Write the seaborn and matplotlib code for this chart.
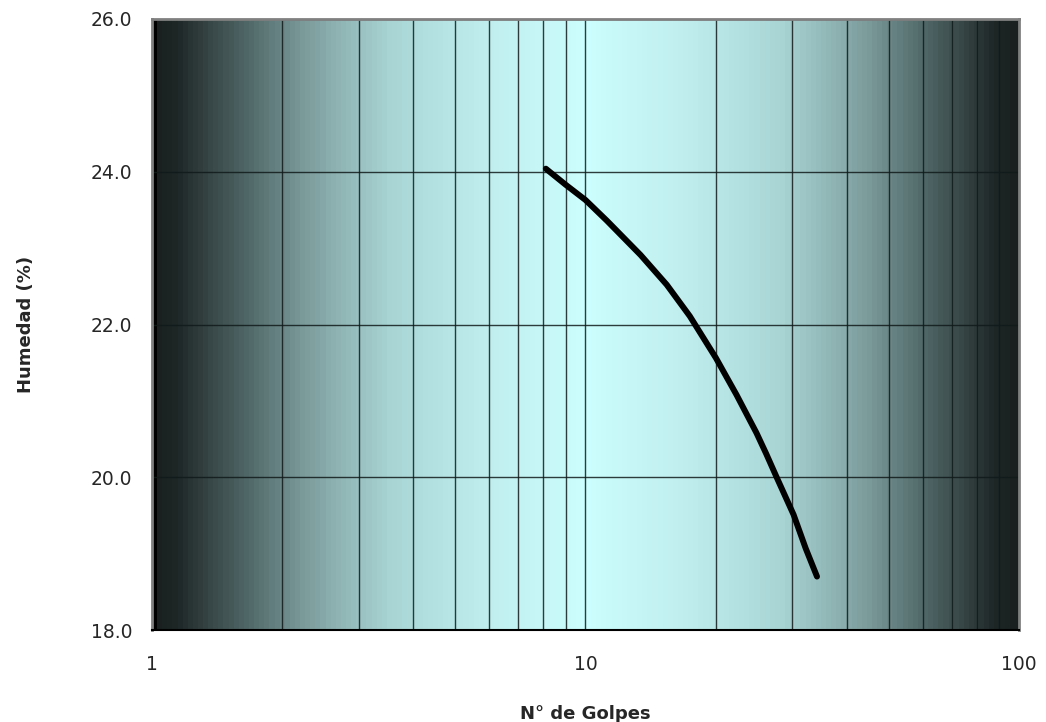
import numpy as np
import pandas as pd
import matplotlib
matplotlib.use("Agg")
import matplotlib.pyplot as plt
import seaborn as sns
from matplotlib.colors import LinearSegmentedColormap
from matplotlib.ticker import LogLocator, FixedLocator, NullFormatter

# curve
golpes = [8.1, 9.0, 10.0, 11.2, 13.4, 15.4, 17.4, 20.0, 22.3, 24.8, 26.1, 27.6, 30.2, 32.2, 34.2]
humedad = [24.04, 23.83, 23.63, 23.36, 22.91, 22.52, 22.11, 21.56, 21.08, 20.58, 20.31, 20.0,
           19.51, 19.07, 18.70]

y_ticks = [18.0, 20.0, 22.0, 24.0, 26.0]
x_ticks = [1, 10, 100]
x_labels = ["1", "10", "100"]

sns.set_style("white")
plt.rcParams["font.family"] = ["DejaVu Sans"]

df = pd.DataFrame({"N": golpes, "W": humedad})

fig = plt.figure(figsize=(10.46, 7.22), dpi=100)
ax = fig.add_axes([0.1453, 0.1274, 0.8289, 0.8463])

# banded background: dark edges, light cyan centre
stops = [(0.0, "#1a1f1f"), (0.05, "#1e2626"), (0.14, "#3b4b4b"),
         (0.24, "#587171"), (0.34, "#7a9999"), (0.43, "#90b4b4"), (0.545, "#a8d4d4"),
         (0.69, "#b8e6e6"), (0.8, "#c2f0f0"), (0.92, "#c8f8f8"), (1.0, "#ccffff")]
half = LinearSegmentedColormap.from_list("half", stops)
nb = 170
pos = np.linspace(0, 1, nb)
tri = 1 - np.abs(2 * pos - 1)
cols = half(tri)
cols[0] = (0, 0, 0, 1)
ax.imshow(cols[np.newaxis, :, :], extent=[0, 1, 0, 1], transform=ax.transAxes,
          aspect="auto", interpolation="nearest", zorder=0)

sns.lineplot(data=df, x="N", y="W", ax=ax, color="black", lw=4.3,
             solid_capstyle="round", solid_joinstyle="round", zorder=5, sort=True)

ax.set_xscale("log")
ax.set_xlim(1, 100)
ax.set_ylim(18, 26)
ax.xaxis.set_major_locator(FixedLocator(x_ticks))
ax.set_xticklabels(x_labels)
ax.xaxis.set_minor_locator(LogLocator(base=10, subs=np.arange(2, 10)))
ax.xaxis.set_minor_formatter(NullFormatter())
ax.set_yticks(y_ticks)
ax.set_yticklabels([f"{v:.1f}" for v in y_ticks])

ax.grid(True, which="both", axis="x", color="#111a1a", lw=1.0, alpha=0.85)
ax.grid(True, which="major", axis="y", color="#111a1a", lw=1.0, alpha=0.85)
for ln in ax.get_xgridlines() + ax.get_ygridlines() + ax.xaxis.get_minorticklines():
    ln.set_zorder(2)

ax.tick_params(axis="both", which="major", direction="out", length=6, width=1,
               color="black", labelsize=13.5, pad=8)
ax.tick_params(axis="x", which="minor", length=0)
ax.tick_params(axis="x", pad=12)

for s in ["top", "right", "left"]:
    ax.spines[s].set_color("#808080")
    ax.spines[s].set_linewidth(2)
ax.spines["bottom"].set_color("black")
ax.spines["bottom"].set_linewidth(1.5)

ax.set_xlabel("N° de Golpes", fontsize=13, fontweight="bold", labelpad=22)
ax.set_ylabel("Humedad (%)", fontsize=13, fontweight="bold", labelpad=40)

fig.savefig("out.png", dpi=100)
